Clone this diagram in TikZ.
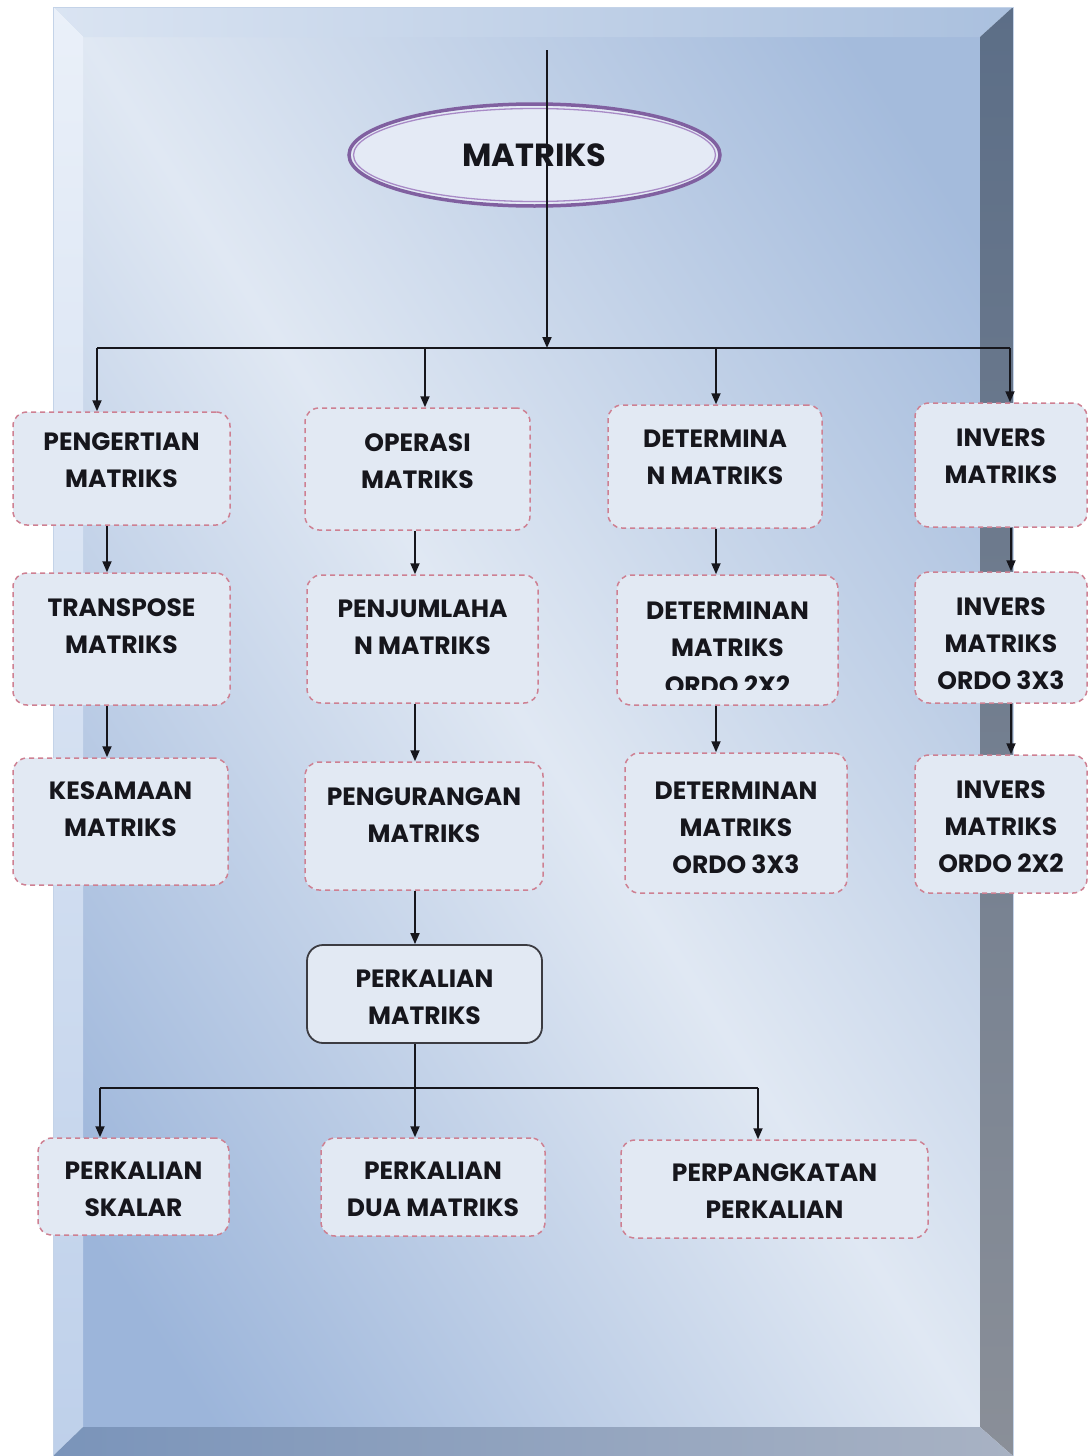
\documentclass[tikz,border=0pt]{standalone}
\usepackage{fontspec}
\setmainfont{Poppins}
\usetikzlibrary{shapes.geometric,arrows.meta}

% panel and frame colours
\definecolor{panellight}{RGB}{224,232,243}
\definecolor{panelblueA}{RGB}{164,187,220}
\definecolor{panelblueB}{RGB}{156,181,218}
\definecolor{bevtopL}{RGB}{218,228,242}
\definecolor{bevtopR}{RGB}{170,192,222}
\definecolor{bevleftT}{RGB}{234,240,249}
\definecolor{bevleftB}{RGB}{190,208,234}
\definecolor{bevrightT}{RGB}{92,110,135}
\definecolor{bevrightB}{RGB}{138,143,152}
\definecolor{bevbotL}{RGB}{122,148,186}
\definecolor{bevbotR}{RGB}{168,178,195}
% boxes, lines, title
\definecolor{boxfill}{RGB}{226,233,243}
\definecolor{boxline}{RGB}{206,128,146}
\definecolor{solidline}{RGB}{60,60,66}
\definecolor{inkline}{RGB}{22,22,28}
\definecolor{ellout}{RGB}{128,96,160}
\definecolor{ellin}{RGB}{168,138,198}
\definecolor{ellfill}{RGB}{228,234,245}

\pgfdeclareverticalshading{panelgrad}{100bp}{%
  color(0bp)=(panelblueB); color(27bp)=(panelblueB);
  color(50bp)=(panellight);
  color(73bp)=(panelblueA); color(100bp)=(panelblueA)}

% vertical offsets of the text inside a box
\newcommand\lift[1]{\rule[-#1]{0pt}{#1}}
\newcommand\sink[1]{\rule{0pt}{\dimexpr\fontcharht\font`M+#1\relax}}

\tikzset{
  every node/.style={font=\fontsize{25}{37}\selectfont\bfseries, text=inkline,
    align=center, inner sep=0pt},
  dbox/.style={draw=boxline, line width=1.5pt, dash pattern=on 5pt off 4pt,
    rounded corners=14pt, fill=boxfill},
  sbox/.style={draw=solidline, line width=1.8pt, rounded corners=16pt, fill=boxfill},
  conn/.style={draw=inkline, line width=1.8pt},
  arr/.style={-{Triangle[length=11pt,width=9pt]}},
}

% \panelbox[style]{name}{x1}{y1}{x2}{y2}{text}
\newcommand\panelbox[7][dbox]{%
  \node[#1, minimum width={#5-#3}, minimum height={#6-#4}]
    (#2) at ({(#3+#5)/2},{(#4+#6)/2}) {#7};}

\begin{document}
\begin{tikzpicture}[x=1pt,y=-1pt]
\useasboundingbox (0,0) rectangle (1088,1456);
\fill[white] (0,0) rectangle (1088,1456);

% panel face
\begin{scope}
  \clip (83,37) rectangle (980,1427);
  \shade[shading=panelgrad, shading angle=-57.2] (-168.5,32) rectangle (1231.5,1432);
\end{scope}

% bevelled frame
\shade[left color=bevtopL, right color=bevtopR] (53,7) -- (1013,7) -- (980,37) -- (83,37) -- cycle;
\shade[top color=bevleftT, bottom color=bevleftB] (53,7) -- (83,37) -- (83,1427) -- (53,1456) -- cycle;
\shade[top color=bevrightT, bottom color=bevrightB] (1013,7) -- (1013,1456) -- (980,1427) -- (980,37) -- cycle;
\shade[left color=bevbotL, right color=bevbotR] (53,1456) -- (83,1427) -- (980,1427) -- (1013,1456) -- cycle;
\draw[bevtopR!70!white, line width=0.8pt] (53,1456) -- (53,7) -- (1013,7) -- (1013,1456);

% title
\node[ellipse, draw=ellout, line width=3.5pt, fill=ellfill, minimum width=371,
  minimum height=102, font=\fontsize{32}{38}\selectfont\bfseries] (matriks) at (534.5,155) {MATRIKS};
\draw[ellin, line width=1.3pt] (matriks.center) ellipse [x radius=181, y radius=46.5];

% first row
\panelbox{pengertian}{13}{412}{230}{525}{PENGERTIAN\\MATRIKS\lift{17pt}}
\panelbox{operasi}{305}{408}{530}{530}{OPERASI\\MATRIKS\lift{16pt}}
\panelbox{determina}{608}{405}{822}{528}{DETERMINA\\N MATRIKS\lift{18pt}}
\panelbox{inversA}{915}{403}{1087}{527}{INVERS\\MATRIKS\lift{18pt}}
% second row
\panelbox{transpose}{13}{573}{230}{705}{TRANSPOSE\\MATRIKS\lift{26pt}}
\panelbox{penjumlahan}{307}{575}{538}{703}{PENJUMLAHA\\N MATRIKS\lift{23pt}}
\panelbox{detB}{617}{575}{838}{705}{DETERMINAN\\MATRIKS\lift{22pt}}
\panelbox{inversB}{915}{572}{1087}{703}{\sink{13pt}INVERS\\MATRIKS\\ORDO 3X3}
% third row
\panelbox{kesamaan}{13}{758}{228}{885}{KESAMAAN\\MATRIKS\lift{25pt}}
\panelbox{pengurangan}{305}{762}{543}{890}{PENGURANGAN\\MATRIKS\lift{22pt}}
\panelbox{detC}{625}{753}{847}{893}{\sink{10pt}DETERMINAN\\MATRIKS\\ORDO 3X3}
\panelbox{inversC}{915}{755}{1087}{893}{\sink{6pt}INVERS\\MATRIKS\\ORDO 2X2}
% multiplication and its branches
\panelbox[sbox]{perkalian}{307}{945}{542}{1043}{\sink{6pt}PERKALIAN\\MATRIKS}
\panelbox{skalar}{38}{1138}{229}{1235}{\sink{6pt}PERKALIAN\\SKALAR}
\panelbox{dua}{321}{1138}{545}{1236}{\sink{4pt}PERKALIAN\\DUA MATRIKS}
\panelbox{pangkat}{621}{1140}{928}{1238}{\sink{4pt}PERPANGKATAN\\PERKALIAN}

% third line of the 2x2 determinant box, cut off by the text area
\begin{scope}
  \clip (detB.west |- 0,670) rectangle (detB.east |- 0,689);
  \node (detBtail) at (detB.center |- 0,685) {ORDO 2X2};
\end{scope}

% main trunk and first branching
\coordinate (trunktop) at (547,50);
\coordinate (hub) at (547,348);
\coordinate (barL) at (97,348);
\coordinate (barR) at (1010,348);
\coordinate (dropB) at (425,348);
\coordinate (dropC) at (716,348);
\draw[conn, arr] (trunktop) -- (hub);
\draw[conn] (barL) -- (barR);
\draw[conn, arr] (barL) -- (barL |- pengertian.north);
\draw[conn, arr] (dropB) -- (dropB |- operasi.north);
\draw[conn, arr] (dropC) -- (dropC |- determina.north);
\draw[conn, arr] (barR) -- (barR |- inversA.north);

% column chains
\coordinate (colA) at (107,0);
\coordinate (colB) at (415,0);
\coordinate (colC) at (716,0);
\coordinate (colD) at (1011,0);
\draw[conn, arr] (colA |- pengertian.south) -- (colA |- transpose.north);
\draw[conn, arr] (colA |- transpose.south) -- (colA |- kesamaan.north);
\draw[conn, arr] (colB |- operasi.south) -- (colB |- penjumlahan.north);
\draw[conn, arr] (colB |- penjumlahan.south) -- (colB |- pengurangan.north);
\draw[conn, arr] (colB |- pengurangan.south) -- (colB |- perkalian.north);
\draw[conn, arr] (colC |- determina.south) -- (colC |- detB.north);
\draw[conn, arr] (colC |- detB.south) -- (colC |- detC.north);
\draw[conn, arr] (colD |- inversA.south) -- (colD |- inversB.north);
\draw[conn, arr] (colD |- inversB.south) -- (colD |- inversC.north);

% second branching
\coordinate (lowL) at (100,1088);
\coordinate (lowR) at (758,1088);
\draw[conn, arr] (colB |- perkalian.south) -- (colB |- dua.north);
\draw[conn] (lowL) -- (lowR);
\draw[conn, arr] (lowL) -- (lowL |- skalar.north);
\draw[conn, arr] (lowR) -- (lowR |- pangkat.north);
\end{tikzpicture}
\end{document}
